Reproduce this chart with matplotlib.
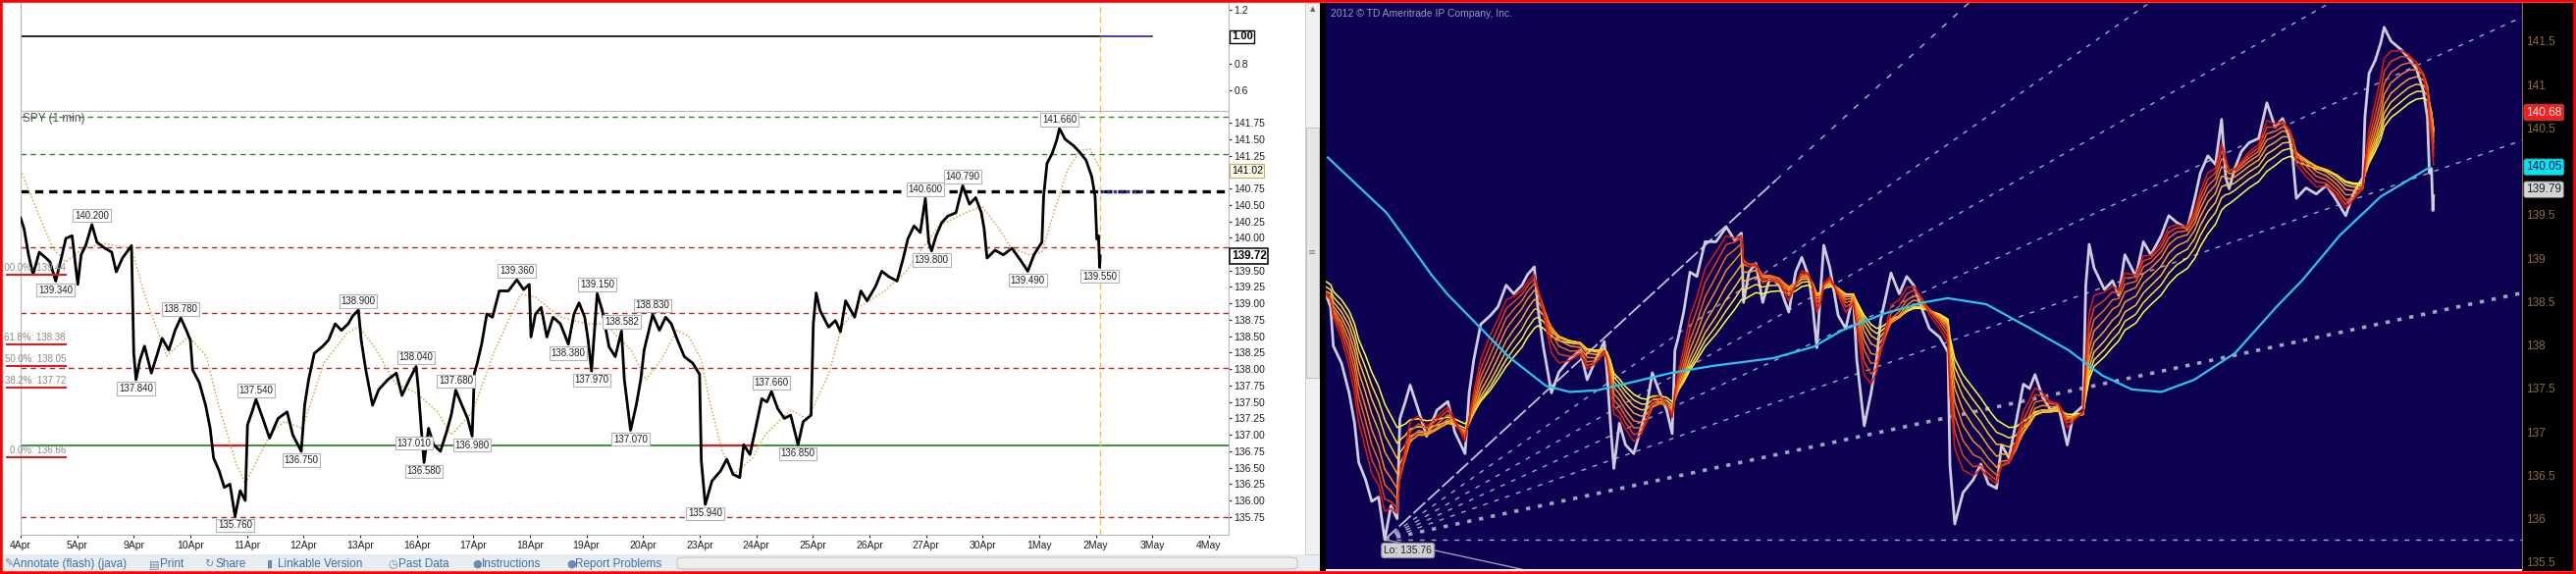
import numpy as np
import pandas as pd
import matplotlib
matplotlib.use("Agg")
import matplotlib.pyplot as plt
import matplotlib.transforms as mtransforms
from matplotlib.patches import Rectangle, FancyBboxPatch

plt.rcParams['font.family'] = ['Liberation Sans', 'DejaVu Sans']

W, H = 2625, 585

# ---------------- data ----------------
# trading day index: 0 = 4Apr, 1 = 5Apr, 2 = 9Apr, ...
dates = ['4Apr', '5Apr', '9Apr', '10Apr', '11Apr', '12Apr', '13Apr', '16Apr',
         '17Apr', '18Apr', '19Apr', '20Apr', '23Apr', '24Apr', '25Apr', '26Apr',
         '27Apr', '30Apr', '1May', '2May', '3May', '4May']

# SPY 1 min path
spy_day = [
    0.00, 0.06, 0.14, 0.22, 0.33, 0.45, 0.52, 0.62, 0.72, 0.80,
    0.91, 1.01, 1.07, 1.15, 1.26, 1.35, 1.49, 1.61, 1.69, 1.80, 1.96,
    2.00, 2.04, 2.11, 2.19, 2.31, 2.42, 2.50, 2.62, 2.73, 2.83, 2.93,
    3.00, 3.04, 3.16, 3.27, 3.35, 3.41, 3.51, 3.60, 3.70, 3.79, 3.88, 3.97,
    4.01, 4.09, 4.16, 4.28, 4.40, 4.55, 4.71, 4.81, 4.96,
    5.02, 5.09, 5.19, 5.33, 5.44, 5.56, 5.67, 5.79, 5.87, 5.97,
    6.02, 6.10, 6.22, 6.33, 6.49, 6.64, 6.74, 6.87, 6.99,
    7.03, 7.08, 7.13, 7.21, 7.30, 7.42, 7.53, 7.61, 7.69, 7.80, 7.90, 7.98,
    8.02, 8.07, 8.15, 8.24, 8.34, 8.46, 8.62, 8.77, 8.89, 8.99,
    9.02, 9.10, 9.20, 9.30, 9.41, 9.54, 9.68, 9.78, 9.87, 9.97,
    10.03, 10.09, 10.15, 10.19, 10.28, 10.40, 10.51, 10.62, 10.67, 10.78, 10.88, 10.96,
    11.02, 11.09, 11.17, 11.29, 11.40, 11.50, 11.61, 11.73, 11.88, 12.00,
    12.03, 12.10, 12.22, 12.37, 12.48, 12.59, 12.71, 12.78, 12.89, 12.99,
    13.10, 13.19, 13.27, 13.38, 13.50, 13.61, 13.74, 13.83, 13.97,
    14.01, 14.06, 14.13, 14.28, 14.40, 14.49, 14.58, 14.74, 14.85, 14.96,
    15.11, 15.22, 15.34, 15.49, 15.60, 15.68, 15.79, 15.90, 15.99,
    16.05, 16.10, 16.18, 16.28, 16.39, 16.53, 16.65, 16.77, 16.88, 16.98,
    17.03, 17.08, 17.22, 17.37, 17.52, 17.67, 17.80, 17.91, 17.98,
    18.05, 18.08, 18.14, 18.23, 18.31, 18.36, 18.46, 18.61, 18.72, 18.83, 18.93, 18.99,
    19.02, 19.05, 19.07, 19.08]
spy_px = [
    140.30, 140.14, 139.74, 139.44, 139.78, 139.69, 139.63, 139.34, 139.69, 139.99,
    140.03, 139.29, 139.74, 139.88, 140.20, 139.93, 139.84, 139.78, 139.48, 139.69, 139.88,
    138.24, 137.84, 138.14, 138.35, 137.94, 138.24, 138.47, 138.29, 138.59, 138.78, 138.59,
    138.44, 137.99, 137.79, 137.45, 137.10, 136.65, 136.45, 136.20, 136.25, 135.76, 136.15, 136.00,
    137.15, 137.35, 137.54, 137.25, 136.95, 137.25, 137.35, 137.00, 136.75,
    137.45, 137.84, 138.24, 138.34, 138.44, 138.69, 138.59, 138.69, 138.81, 138.90,
    138.44, 137.99, 137.45, 137.69, 137.84, 137.94, 137.60, 137.84, 138.04,
    137.69, 137.10, 136.58, 137.10, 136.85, 136.75, 137.05, 137.30, 137.68, 137.45, 137.25, 136.98,
    137.94, 138.09, 138.39, 138.84, 138.79, 139.19, 139.19, 139.36, 139.21, 139.29,
    138.49, 138.84, 138.94, 138.49, 138.79, 138.69, 138.38, 138.84, 139.01, 138.79,
    138.44, 137.97, 138.69, 139.15, 138.89, 138.34, 138.19, 138.58, 137.84, 137.07, 137.45, 137.84,
    138.29, 138.54, 138.83, 138.59, 138.79, 138.69, 138.44, 138.19, 138.09, 137.92,
    136.61, 135.94, 136.30, 136.45, 136.63, 136.40, 136.35, 136.85, 136.70, 137.10,
    137.55, 137.50, 137.66, 137.40, 137.25, 137.30, 136.85, 137.20, 137.30,
    138.69, 139.16, 138.89, 138.64, 138.74, 138.57, 139.04, 138.79, 139.19, 139.04,
    139.26, 139.49, 139.41, 139.34, 139.69, 139.98, 140.18, 140.08, 140.60,
    139.93, 139.80, 140.03, 140.23, 140.33, 140.38, 140.79, 140.51, 140.61, 140.38,
    140.13, 139.69, 139.81, 139.74, 139.84, 139.66, 139.49, 139.74, 139.84,
    139.93, 140.63, 141.13, 141.28, 141.48, 141.66, 141.50, 141.40, 141.30, 141.18, 140.93, 140.63,
    139.98, 140.03, 139.55, 139.72]
assert len(spy_day) == len(spy_px)

# tan dotted average on the left chart
tan_day = [0.00, 0.33, 0.57, 0.80, 1.11, 1.49, 1.96, 2.18, 2.58, 2.97, 3.28, 3.50, 3.81,
           3.97, 4.44, 4.66, 4.98, 5.36, 5.76, 5.98, 6.29, 6.61, 6.99, 7.37, 7.61, 7.99,
           8.38, 8.84, 9.09, 9.54, 10.01, 10.32, 10.79, 11.05, 11.32, 11.60, 11.81, 12.03,
           12.17, 12.40, 12.62, 12.94, 13.16, 13.61, 13.91, 14.29, 14.51, 14.81, 15.26,
           15.64, 15.94, 16.23, 16.70, 16.99, 17.29, 17.51, 17.83, 18.05, 18.28, 18.50,
           18.73, 18.90, 19.09]
tan_px = [141.03, 140.33, 139.84, 139.63, 139.84, 139.91, 139.84, 139.16, 138.20, 138.50,
          138.20, 137.45, 136.56, 136.26, 137.05, 137.20, 137.10, 138.09, 138.54, 138.65,
          138.29, 137.79, 137.64, 137.35, 137.00, 137.35, 138.29, 139.14, 139.10, 138.79,
          138.69, 138.69, 138.29, 137.84, 138.14, 138.59, 138.50, 138.14, 137.54, 136.75,
          136.41, 136.65, 137.00, 137.38, 137.24, 137.94, 138.65, 138.94, 139.18, 139.48,
          139.84, 140.18, 140.38, 140.48, 140.14, 139.84, 139.74, 139.78, 140.44, 141.03,
          141.33, 141.35, 141.03]

# swing labels
hi_day = [1.26, 2.83, 4.16, 5.97, 6.99, 7.69, 8.77, 10.19, 10.62, 11.17, 13.27, 15.99, 16.65, 18.36]
hi_val = [140.20, 138.78, 137.54, 138.90, 138.04, 137.68, 139.36, 139.15, 138.582, 138.83,
          137.66, 140.60, 140.79, 141.66]
lo_day = [0.62, 2.04, 3.79, 4.96, 6.95, 7.13, 7.98, 9.68, 10.09, 10.78, 12.10, 13.74, 16.10, 17.80, 19.07]
lo_val = [139.34, 137.84, 135.76, 136.75, 137.01, 136.58, 136.98, 138.38, 137.97, 137.07,
          135.94, 136.85, 139.80, 139.49, 139.55]

# fibonacci retracement labels
fib_pct = ['100.0%', '61.8%', '50.0%', '38.2%', '0.0%']
fib_val = [139.44, 138.38, 138.05, 137.72, 136.66]

# horizontal levels
green_dash = [141.84, 141.27]
black_dash = 140.71
red_dash = [139.85, 138.85, 138.02, 135.75]
green_solid = 136.84
red_on_green = [(3.38, 4.00), (11.98, 13.00)]
cursor_day = 19.07
ind_level = 1.00
ind_last_day = 20.0
last_box = [('141.02', 141.02), ('139.72', 139.72)]

# right chart
cyan_day = [2.96, 3.82, 4.47, 4.71, 5.12, 5.59, 6.14, 6.49, 6.89, 7.38, 7.97, 8.57, 9.46,
            10.04, 10.46, 11.06, 11.64, 12.00, 12.56, 13.16, 13.76, 14.25, 14.68, 15.11,
            15.59, 16.19, 16.79, 17.17, 17.71, 18.31, 19.03]
cyan_px = [140.16, 139.52, 138.81, 138.58, 138.25, 137.87, 137.53, 137.46, 137.48, 137.57,
           137.68, 137.76, 137.85, 137.98, 138.17, 138.36, 138.49, 138.54, 138.47, 138.21,
           137.94, 137.65, 137.49, 137.46, 137.60, 137.91, 138.44, 138.75, 139.26, 139.71, 140.05]
ema_tau = [0.75, 0.62, 0.51, 0.41, 0.32, 0.25, 0.19, 0.14]   # days, slow -> fast
ema_col = ['#ffff3c', '#ffe030', '#ffc428', '#ffa422', '#ff861c', '#f56616', '#ea4010', '#dc1a0c']
fan_lo = (3.79, 135.76)
fan_hi = (8.75, 139.36)
fan_ratio = [1.0, 0.764, 0.618, 0.5, 0.382, 0.236, 0.0, -0.236]
rbox_val = [140.68, 140.05, 139.79]
rbox_fc = ['#ff1a1a', '#00e5f5', '#d4d4d4']
rbox_tc = ['white', '#001040', '#202020']

toolbar = [('\u270e', 'Annotate (flash) (java)', 4, 13), ('\u25a4', 'Print', 152, 163),
           ('\u21bb', 'Share', 208, 219), ('\u25ae', 'Linkable Version', 272, 283),
           ('\u25f7', 'Past Data', 395, 406), ('\u25cf', 'Instructions', 481, 491),
           ('\u25cf', 'Report Problems', 577, 586)]

# ---------------- figure ----------------
fig = plt.figure(figsize=(W / 100, H / 100), dpi=100)
fig.patch.set_facecolor('white')


def box(x0, y0, x1, y1):
    return [x0 / W, 1 - y1 / H, (x1 - x0) / W, (y1 - y0) / H]


def frect(x0, y0, x1, y1, **kw):
    r = Rectangle((x0 / W, 1 - y1 / H), (x1 - x0) / W, (y1 - y0) / H,
                  transform=fig.transFigure, **kw)
    fig.add_artist(r)
    return r


# backgrounds
frect(3, 565, 1345, 582, fc='#e9edf1', ec='none', zorder=-1)
fig.add_artist(FancyBboxPatch((690 / W, 1 - 580 / H), 632 / W, 12 / H,
                              boxstyle='round,pad=0,rounding_size=0.004',
                              transform=fig.transFigure, fc='#eeeeee', ec='#c4c4c4', lw=0.8, zorder=-1))
frect(1330, 3, 1345, 565, fc='#f0f0f0', ec='#c8c8c8', lw=0.6, zorder=-1)
frect(1331, 130, 1344, 385, fc='#e6e6e6', ec='#b8b8b8', lw=0.6, zorder=-1)
frect(1345, 3, 1351, 582, fc='black', ec='none', zorder=-1)
frect(2570, 3, 2625, 582, fc='black', ec='none', zorder=-1)
fig.text(1337.5 / W, 1 - 9 / H, '\u25b2', fontsize=5, color='#606060', ha='center', va='center',
         family='DejaVu Sans')
fig.text(1337.5 / W, 1 - 257 / H, '\u2261', fontsize=7, color='#808080', ha='center', va='center',
         family='DejaVu Sans')

# ---------- left: indicator strip ----------
ax_u = fig.add_axes(box(21, 3, 1252, 113))
ax_u.set_facecolor('white')
ax_u.plot([0, cursor_day], [ind_level, ind_level], color='black', lw=1.2)
ax_u.plot([cursor_day, ind_last_day], [ind_level, ind_level], color='#20208a', lw=1.2)
ax_u.axvline(cursor_day, color='#e8c230', ls=(0, (5, 3)), lw=0.9)
ax_u.set_xlim(0, 21.35)
ax_u.set_ylim(0.444, 1.252)
ax_u.set_xticks([])
ax_u.yaxis.tick_right()
ax_u.set_yticks([0.6, 0.8, 1.0, 1.2])
ax_u.set_yticklabels(['0.6', '0.8', '', '1.2'])
ax_u.tick_params(axis='y', length=2, pad=2, labelsize=7.5, colors='#202020')
for s in ['top', 'bottom']:
    ax_u.spines[s].set_visible(False)
for s in ['left', 'right']:
    ax_u.spines[s].set_color('#b8b8b8')
ax_u.annotate(f'{ind_level:.2f}', (1, ind_level), xycoords=ax_u.get_yaxis_transform(),
              xytext=(2, 0), textcoords='offset points', ha='left', va='center',
              fontsize=8, fontweight='bold',
              bbox=dict(boxstyle='square,pad=0.15', fc='white', ec='black', lw=1.0))

# ---------- left: price chart ----------
ax = fig.add_axes(box(21, 113, 1252, 545))
ax.set_facecolor('white')
for v in green_dash:
    ax.axhline(v, color='#2a8a2a', ls=(0, (4, 3)), lw=1.0)
ax.axhline(black_dash, color='black', ls=(0, (2.5, 1.8)), lw=2.4)
ax.hlines(black_dash, cursor_day, ind_last_day, color='#2a2a9a', ls=(0, (1, 1)), lw=2.4, zorder=3)
for v in red_dash:
    ax.axhline(v, color='#cc2020', ls=(0, (4, 3)), lw=1.0)
ax.axhline(green_solid, color='#2e8b2e', lw=1.3)
for a, b in red_on_green:
    ax.hlines(green_solid, a, b, color='#d42020', lw=1.6, zorder=3)
ax.axvline(cursor_day, color='#e8c230', ls=(0, (5, 3)), lw=0.9)

ax.plot(tan_day, tan_px, color='#d9a441', ls=(0, (1, 1.4)), lw=1.1, zorder=3)
ax.plot(spy_day, spy_px, color='black', lw=2.0, zorder=4)

lab_box = dict(boxstyle='square,pad=0.18', fc='white', ec='#b4b4b4', lw=0.8)
for d, v in zip(hi_day, hi_val):
    ax.annotate(f'{v:.3f}', (d, v), xytext=(0, 3), textcoords='offset points',
                ha='center', va='bottom', fontsize=7, color='#202020', bbox=lab_box, zorder=6)
for d, v in zip(lo_day, lo_val):
    ax.annotate(f'{v:.3f}', (d, v), xytext=(0, -3), textcoords='offset points',
                ha='center', va='top', fontsize=7, color='#202020', bbox=lab_box, zorder=6)

blend = mtransforms.blended_transform_factory(fig.transFigure, ax.transData)
for p, v in zip(fib_pct, fib_val):
    ax.plot([7 / W, 67 / W], [v, v], transform=blend, color='#d42020', lw=1.5, clip_on=False, zorder=5)
    ax.annotate(f'{p}: {v:.2f}', (67 / W, v), xycoords=blend, xytext=(0, 1.5),
                textcoords='offset points', ha='right', va='bottom', fontsize=7,
                color='#8a8a8a', annotation_clip=False, zorder=5)

ax.text(0.002, 0.9815, 'SPY (1 min)', transform=ax.transAxes, ha='left', va='center',
        fontsize=8.5, color='#505050')

ax.set_xlim(0, 21.35)
ax.set_ylim(135.48, 141.93)
ax.set_xticks(range(len(dates)))
ax.set_xticklabels(dates)
ax.yaxis.tick_right()
yt = np.arange(135.75, 141.76, 0.25)
ax.set_yticks(yt)
ax.set_yticklabels(['' if abs(t - 141.0) < 1e-6 or abs(t - 139.75) < 1e-6 else f'{t:.2f}' for t in yt])
ax.tick_params(axis='y', length=2, pad=2, labelsize=7.5, colors='#202020')
ax.tick_params(axis='x', length=2, pad=2, labelsize=7.5, colors='#202020')
for s in ax.spines.values():
    s.set_color('#b8b8b8')
for txt, v in last_box:
    bold = txt == '139.72'
    ax.annotate(txt, (1, v), xycoords=ax.get_yaxis_transform(), xytext=(2, 0),
                textcoords='offset points', ha='left', va='center',
                fontsize=8.5 if bold else 7.5, fontweight='bold' if bold else 'normal',
                bbox=dict(boxstyle='square,pad=0.15', fc='white' if bold else '#fffbea',
                          ec='black' if bold else '#c9b06a', lw=1.1 if bold else 0.9))

for icon, label, xi, xt in toolbar:
    fig.text(xi / W, 1 - 575 / H, icon, fontsize=8, color='#6a8ab0', va='center', family='DejaVu Sans')
    fig.text(xt / W, 1 - 575 / H, label, fontsize=8.5, color='#3f6ea6', va='center')

# ---------- right: dark chart ----------
axr = fig.add_axes(box(1351, 3, 2570, 580), facecolor='#0b0150')
x_end = 20.37
slope1 = (fan_hi[1] - fan_lo[1]) / (fan_hi[0] - fan_lo[0])
for r in fan_ratio:
    k = r * slope1
    if r == 1.0:
        xs = np.array([fan_lo[0], 9.5])
        axr.plot(xs, fan_lo[1] + k * (xs - fan_lo[0]), color='#c4c4dc', lw=1.3, ls=(0, (9, 2)))
        xs = np.array([9.5, x_end])
        axr.plot(xs, fan_lo[1] + k * (xs - fan_lo[0]), color='#a8a8c4', lw=1.1, ls=(0, (4, 6)))
    elif r == 0.236:
        xs = np.array([fan_lo[0], x_end])
        axr.plot(xs, fan_lo[1] + k * (xs - fan_lo[0]), color='#a4a4b8', lw=2.6, ls=(0, (1.2, 2.2)))
    elif r < 0:
        xs = np.array([fan_lo[0], x_end])
        axr.plot(xs, fan_lo[1] + k * (xs - fan_lo[0]), color='#9c9cb8', lw=1.0)
    else:
        xs = np.array([fan_lo[0], x_end])
        axr.plot(xs, fan_lo[1] + k * (xs - fan_lo[0]), color='#a8a8c4', lw=1.0, ls=(0, (3.5, 5)))

axr.plot(spy_day, spy_px, color='#cdcddc', lw=2.0, zorder=3)

times = pd.to_datetime(np.array(spy_day) * 86400.0, unit='s')
spy_s = pd.Series(spy_px, index=times)
for tau, col in zip(ema_tau, ema_col):
    ema = spy_s.ewm(halflife=pd.Timedelta(days=tau * np.log(2)), times=times).mean()
    axr.plot(spy_day, ema.values, color=col, lw=1.1, zorder=4)

axr.plot(cyan_day, cyan_px, color='#22c8f0', lw=1.6, zorder=5)

axr.annotate(f'Lo: {fan_lo[1]:.2f}', fan_lo, xytext=(17, -8), textcoords='offset points',
             ha='center', va='center', fontsize=7.5, color='#202020', zorder=7,
             bbox=dict(boxstyle='round,pad=0.25', fc='#d0d0d4', ec='#8a8a9a', lw=0.8))

axr.set_xlim(2.93, x_end)
axr.set_ylim(135.42, 141.94)
axr.set_xticks([])
axr.yaxis.tick_right()
ryt = np.arange(135.5, 141.6, 0.5)
axr.set_yticks(ryt)
# the 140 label sits under the cyan value tag
axr.set_yticklabels(['' if abs(t - 140.0) < 1e-6 else f'{t:g}' for t in ryt])
axr.tick_params(axis='y', length=0, pad=3, labelsize=8.5, colors='#8c6d3f')
for s in ['top', 'bottom', 'left']:
    axr.spines[s].set_visible(False)
axr.spines['right'].set_color('#8c6d3f')
for v, fc, tc in zip(rbox_val, rbox_fc, rbox_tc):
    axr.annotate(f'{v:.2f}', (1, v), xycoords=axr.get_yaxis_transform(), xytext=(3, 0),
                 textcoords='offset points', ha='left', va='center', fontsize=8.5, color=tc,
                 zorder=8, annotation_clip=False,
                 bbox=dict(boxstyle='round,pad=0.2', fc=fc, ec='#606060', lw=0.6))

fig.text(1356 / W, 1 - 14 / H, '2012 \u00a9 TD Ameritrade IP Company, Inc.', fontsize=7.5,
         color='#9a9ab8', va='center')

# red frame round the whole capture
fig.add_artist(Rectangle((0, 0), 1, 1, transform=fig.transFigure, fill=False,
                         ec='#ff0000', lw=4, zorder=10))

fig.savefig('out.png', dpi=100)
